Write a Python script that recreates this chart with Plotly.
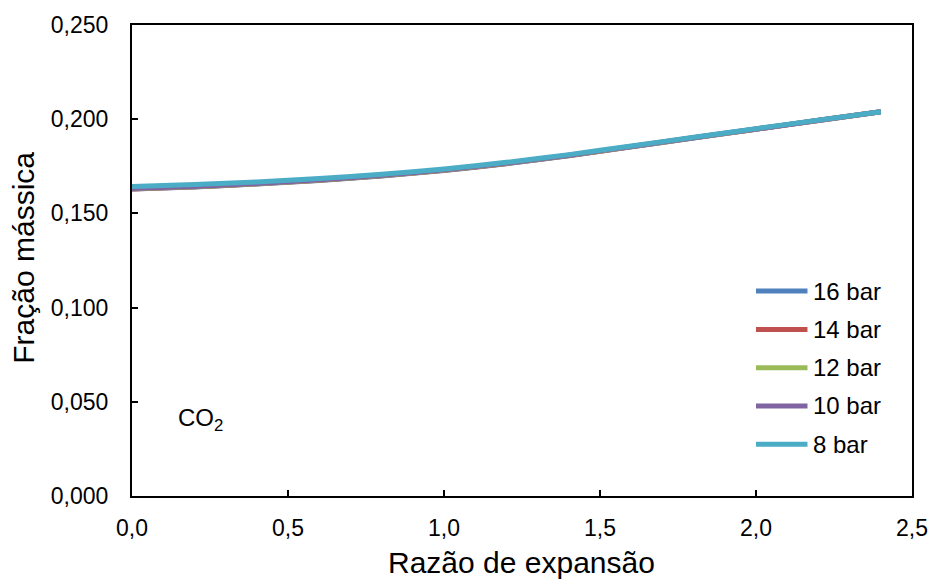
import plotly.graph_objects as go

x_vals = [0.0, 0.2, 0.4, 0.6, 0.8, 1.0, 1.2, 1.4, 1.6, 1.8, 2.0, 2.2, 2.4]
y_16 = [0.1629, 0.1640, 0.1656, 0.1675, 0.1699, 0.1728, 0.1764, 0.1806, 0.1853, 0.1900, 0.1947, 0.1993, 0.2039]
y_14 = [0.1630, 0.1641, 0.1657, 0.1676, 0.1700, 0.1729, 0.1765, 0.1807, 0.1854, 0.1901, 0.1947, 0.1993, 0.2039]
y_12 = [0.1631, 0.1642, 0.1658, 0.1677, 0.1701, 0.1730, 0.1766, 0.1808, 0.1855, 0.1901, 0.1948, 0.1994, 0.2039]
y_10 = [0.1632, 0.1643, 0.1659, 0.1678, 0.1702, 0.1731, 0.1767, 0.1809, 0.1855, 0.1902, 0.1948, 0.1994, 0.2040]
y_8 = [0.1643, 0.1653, 0.1667, 0.1685, 0.1708, 0.1736, 0.1771, 0.1812, 0.1858, 0.1904, 0.1950, 0.1995, 0.2040]

series_names = ["16 bar", "14 bar", "12 bar", "10 bar", "8 bar"]
series_values = [y_16, y_14, y_12, y_10, y_8]
series_colors = ["#4F81BD", "#C0504D", "#9BBB59", "#8064A2", "#4BACC6"]

y_ticks = [0.0, 0.05, 0.10, 0.15, 0.20, 0.25]
x_ticks = [0.0, 0.5, 1.0, 1.5, 2.0, 2.5]

x_title = "Razão de expansão"
y_title = "Fração mássica"

FONT = "Liberation Sans, Arial, sans-serif"

fig = go.Figure()
for name, vals, col in zip(series_names, series_values, series_colors):
    fig.add_trace(go.Scatter(x=x_vals, y=vals, mode="lines", name=name,
                             line=dict(color=col, width=5, shape="spline", smoothing=0.8),
                             showlegend=False))

# manual legend (Excel-like layout)
leg_y0 = 0.435
leg_step = 0.0813
for i, (name, col) in enumerate(zip(series_names, series_colors)):
    yy = leg_y0 - i * leg_step
    fig.add_shape(type="line", xref="paper", yref="paper",
                  x0=0.800, x1=0.866, y0=yy, y1=yy,
                  line=dict(color=col, width=5))
    fig.add_annotation(xref="paper", yref="paper", x=0.871, y=yy,
                       text=name, showarrow=False, xanchor="left", yanchor="middle",
                       font=dict(family=FONT, size=24, color="#000000"))

fig.add_annotation(xref="paper", yref="paper", x=0.057, y=0.163,
                   text="CO<sub>2</sub>", showarrow=False, xanchor="left", yanchor="middle",
                   font=dict(family=FONT, size=24, color="#000000"))

# axis titles
fig.add_annotation(xref="paper", yref="paper", x=0.499, y=-0.142,
                   text=x_title, showarrow=False, xanchor="center", yanchor="middle",
                   font=dict(family=FONT, size=30, color="#000000"))
fig.add_annotation(xref="paper", yref="paper", x=-0.139, y=0.505,
                   text=y_title, showarrow=False, xanchor="center", yanchor="middle",
                   textangle=-90,
                   font=dict(family=FONT, size=30, color="#000000"))

fig.update_layout(
    width=932, height=583,
    margin=dict(l=132, r=20, t=25, b=87),
    paper_bgcolor="white", plot_bgcolor="white",
    separators=",.",
    font=dict(family=FONT, size=23, color="#000000"),
    xaxis=dict(range=[0, 2.5], tickvals=x_ticks, tickformat=".1f", automargin=False,
               showgrid=False, zeroline=False, showline=True, linecolor="black",
               linewidth=2, mirror=True, ticks="inside", ticklen=6, tickwidth=1.5,
               tickcolor="black", ticklabelstandoff=10),
    yaxis=dict(range=[0, 0.25], tickvals=y_ticks, tickformat=".3f", automargin=False,
               showgrid=False, zeroline=False, showline=True, linecolor="black",
               linewidth=2, mirror=True, ticks="inside", ticklen=6, tickwidth=1.5,
               tickcolor="black", ticklabelstandoff=17),
)

fig.write_html("out.html", config={"displayModeBar": False},
               post_script="document.body.style.margin='0';document.body.style.overflow='hidden';")
